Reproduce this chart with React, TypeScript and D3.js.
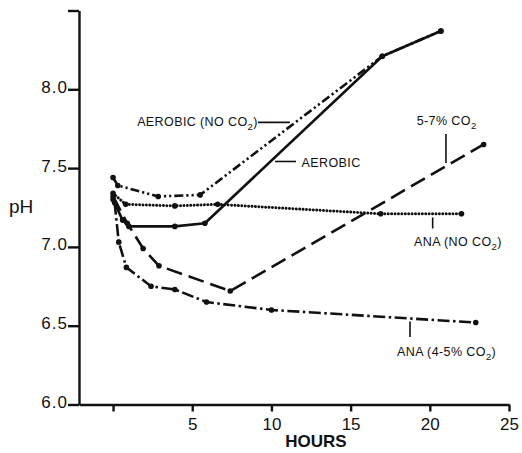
import React, { useEffect, useRef } from 'react'
import * as d3 from 'd3'

// hours / pH
const aerobicNoCo2Hours = [0, 0.3, 2.85, 5.5, 17, 20.7]
const aerobicNoCo2Ph = [7.44, 7.39, 7.32, 7.33, 8.21, 8.37]

const aerobicHours = [0, 0.6, 1.0, 3.9, 5.8, 17, 20.7]
const aerobicPh = [7.3, 7.17, 7.13, 7.13, 7.15, 8.21, 8.37]

const anaNoCo2Hours = [0, 0.8, 3.9, 6.6, 16.9, 22]
const anaNoCo2Ph = [7.34, 7.27, 7.26, 7.27, 7.21, 7.21]

const co2HighHours = [0, 0.9, 1.9, 2.9, 7.4, 23.4]
const co2HighPh = [7.32, 7.15, 6.99, 6.88, 6.72, 7.65]

const anaCo2Hours = [0.1, 0.36, 0.84, 2.4, 3.9, 5.9, 10, 22.9]
const anaCo2Ph = [7.28, 7.03, 6.87, 6.75, 6.73, 6.65, 6.6, 6.52]

const xTicks = [0, 5, 10, 15, 20, 25]
const yTicks = [6.0, 6.5, 7.0, 7.5, 8.0, 8.5]

const zip = (hs, ps) => hs.map((h, i) => ({ h, p: ps[i] }))

const App = () => {
  const svgRef = useRef()

  useEffect(() => {
    const svg = d3.select(svgRef.current)
    svg.selectAll('*').remove()

    const xScale = d3.scaleLinear().domain([-2.15, 25]).range([79, 509])
    const yScale = d3.scaleLinear().domain([6, 8.5]).range([404.5, 10.5])

    const tickFont = '"Liberation Sans", Arial, sans-serif'

    // y axis
    const yAxis = d3.axisLeft(yScale)
      .tickValues(yTicks)
      .tickSize(11)
      .tickSizeOuter(0)
      .tickPadding(0)
      .tickFormat((d) => (d === 8.5 ? '' : d3.format('.1f')(d)))
    const gy = svg.append('g').attr('transform', 'translate(79,0)').call(yAxis)
    gy.selectAll('path, line').attr('stroke', '#111').attr('stroke-width', 2.4)
    gy.selectAll('text')
      .attr('dy', '3')
      .attr('x', -11)
      .attr('font-family', tickFont)
      .attr('font-size', 17)
      .attr('letter-spacing', 1)
      .attr('fill', '#111')

    // x axis
    const xAxis = d3.axisBottom(xScale)
      .tickValues(xTicks)
      .tickSize(7)
      .tickSizeOuter(0)
      .tickFormat((d) => (d === 0 ? '' : d))
    const gx = svg.append('g').attr('transform', 'translate(0,404.5)').call(xAxis)
    gx.selectAll('path, line').attr('stroke', '#111').attr('stroke-width', 2.4)
    gx.selectAll('text')
      .attr('y', 25)
      .attr('dy', 0)
      .attr('font-family', tickFont)
      .attr('font-size', 17)
      .attr('fill', '#111')

    svg.append('text')
      .attr('x', 316).attr('y', 447)
      .attr('text-anchor', 'middle')
      .attr('font-family', tickFont)
      .attr('font-size', 17)
      .attr('font-weight', 'bold')
      .attr('fill', '#111')
      .text('HOURS')

    svg.append('text')
      .attr('x', 9).attr('y', 213)
      .attr('font-family', tickFont)
      .attr('font-size', 19)
      .attr('fill', '#111')
      .text('pH')

    const line = d3.line()
      .x((d) => xScale(d.h))
      .y((d) => yScale(d.p))

    const series = [
      { data: zip(aerobicNoCo2Hours, aerobicNoCo2Ph), dash: '9,3,2.2,3,2.2,3', cap: 'butt', w: 2.6 },
      { data: zip(aerobicHours, aerobicPh), dash: null, cap: 'butt', w: 2.6 },
      { data: zip(anaNoCo2Hours, anaNoCo2Ph), dash: '0.01,3.4', cap: 'round', w: 3 },
      { data: zip(co2HighHours, co2HighPh), dash: '16,7', cap: 'butt', w: 2.6 },
      { data: zip(anaCo2Hours, anaCo2Ph), dash: '12,3.5,2.5,3.5', cap: 'butt', w: 2.6 },
    ]

    series.forEach((s) => {
      svg.append('path')
        .attr('d', line(s.data))
        .attr('fill', 'none')
        .attr('stroke', '#111')
        .attr('stroke-width', s.w)
        .attr('stroke-linecap', s.cap)
        .attr('stroke-linejoin', 'round')
        .attr('stroke-dasharray', s.dash)
      svg.append('g')
        .selectAll('circle')
        .data(s.data)
        .join('circle')
        .attr('cx', (d) => xScale(d.h))
        .attr('cy', (d) => yScale(d.p))
        .attr('r', 2.8)
        .attr('fill', '#111')
    })

    // labels with leaders
    const labelFont = '"Liberation Sans", Arial, sans-serif'
    const addLabel = (h, p, main, tail) => {
      const t = svg.append('text')
        .attr('x', xScale(h)).attr('y', yScale(p))
        .attr('font-family', labelFont)
        .attr('font-size', 12.5)
        .attr('letter-spacing', 0.4)
        .attr('fill', '#111')
      t.append('tspan').text(main)
      if (tail !== undefined) {
        t.append('tspan').attr('font-size', 9.5).attr('dy', 4).text('2')
        t.append('tspan').attr('dy', -4).text(tail)
      }
    }
    const leader = (h1, p1, h2, p2) => {
      svg.append('line')
        .attr('x1', xScale(h1)).attr('y1', yScale(p1))
        .attr('x2', xScale(h2)).attr('y2', yScale(p2))
        .attr('stroke', '#111')
        .attr('stroke-width', 1.6)
    }

    addLabel(1.52, 7.767, 'AEROBIC (NO CO', ')')
    leader(9.15, 7.79, 11.17, 7.79)

    addLabel(11.9, 7.51, 'AEROBIC')
    leader(10.23, 7.542, 11.55, 7.542)

    addLabel(19.17, 7.773, '5-7% CO', '')
    leader(21.02, 7.716, 21.02, 7.532)

    addLabel(19.0, 7.006, 'ANA (NO CO', ')')
    leader(20.18, 7.187, 20.18, 7.117)

    addLabel(17.93, 6.308, 'ANA (4-5% CO', ')')
    leader(18.75, 6.527, 18.75, 6.428)
  }, [])

  return (
    <svg
      ref={svgRef}
      width={522}
      height={453}
      viewBox="0 0 522 453"
      style={{ position: 'absolute', left: 0, top: 0, background: '#fff' }}
    />
  )
}

export default App
